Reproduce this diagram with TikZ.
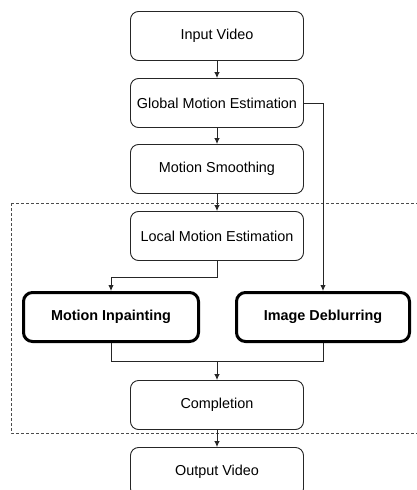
\documentclass[tikz,border=0pt]{standalone}
\usepackage{fontspec}
\setmainfont{Liberation Sans}
\usetikzlibrary{arrows.meta}
\begin{document}
\begin{tikzpicture}[x=1pt,y=-1pt,
  every node/.style={font=\fontsize{14.4}{16}\selectfont},
  plain/.style={draw=black!85, line width=0.9pt, rounded corners=8pt, minimum width=173pt, minimum height=49pt, inner sep=0pt},
  heavy/.style={draw=black, line width=3pt, rounded corners=9pt, minimum height=49pt, inner sep=0pt, font=\fontsize{14.4}{16}\selectfont\bfseries},
  conn/.style={draw=black!85, line width=0.9pt, -{Latex[length=6pt,width=5.5pt]}},
  link/.style={draw=black!85, line width=0.9pt},
  frame/.style={draw=black!70, line width=0.9pt, dash pattern=on 3pt off 2pt}]
\useasboundingbox (0,0) rectangle (417,490);
\clip (0,0) rectangle (417,490);
\draw[frame] (11,203) -- (430,203) (11,203) -- (11,433) -- (430,433);
\node[plain] (in) at (217,36) {Input Video};
\node[plain] (gme) at (217,103) {Global Motion Estimation};
\node[plain] (ms) at (217,169) {Motion Smoothing};
\node[plain] (lme) at (217,236) {Local Motion Estimation};
\node[heavy, minimum width=175pt] (mi) at (111,317) {Motion Inpainting};
\node[heavy, minimum width=173pt] (id) at (323,317) {Image Deblurring};
\node[plain] (co) at (217,405) {Completion};
\node[plain] (out) at (217,472) {Output Video};
\coordinate (g1) at (323,103);
\coordinate (l1) at (217,277);
\coordinate (l2) at (111,277);
\coordinate (m0) at (217,361);
\coordinate (m1) at (111,361);
\coordinate (m2) at (323,361);
\draw[conn] (in) -- (gme);
\draw[conn] (gme) -- (ms);
\draw[conn] (ms) -- (lme);
\draw[conn] (gme.east) -- (g1) -- (id.north);
\draw[conn] (lme.south) -- (l1) -- (l2) -- (mi.north);
\draw[link] (mi.south) -- (m1) -- (m2) -- (id.south);
\draw[conn] (m0) -- (co.north);
\draw[conn] (co) -- (out);
\end{tikzpicture}
\end{document}
